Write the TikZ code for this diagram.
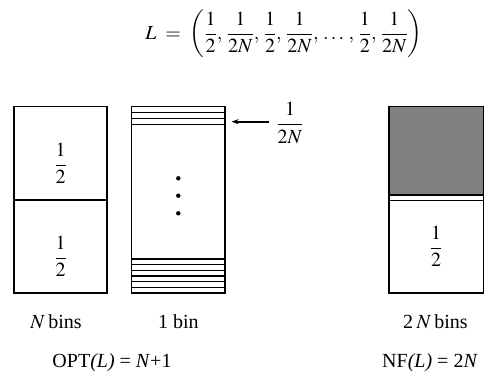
\documentclass[tikz,border=0pt]{standalone}
\usepackage{mathptmx}
\usepackage{fontspec}
\setmainfont{Liberation Serif}
\usepackage{tikz}
\usetikzlibrary{arrows.meta, positioning}
\definecolor{bingray}{HTML}{808080}

\newcommand{\bigfrac}[2]{{\displaystyle\frac{#1}{#2}}}

\tikzset{
  binline/.style={draw=black, line width=1.2pt},
  lbl/.style={font=\fontsize{20}{24}\selectfont, inner sep=0pt},
  headline/.style={font=\fontsize{20}{24}\selectfont, inner sep=0pt}
}

\begin{document}
\begin{tikzpicture}[x=1pt, y=-1pt]
    \useasboundingbox (0,0) rectangle (492,380);

    % The list
    \node[headline] (list) at (284,34) {$L\;=\;\biggl(\bigfrac{1}{2},\,\bigfrac{1}{2N},\,\bigfrac{1}{2},\,\bigfrac{1}{2N},\,\ldots\,,\,\bigfrac{1}{2},\,\bigfrac{1}{2N}\biggr)$};

    % OPT packing: N bins holding two halves
    \draw[binline] (14,106.7) rectangle (107,293);
    \draw[binline] (14,200) -- (107,200);
    \node[lbl] (halfA) at (60.5,163.5) {$\bigfrac{1}{2}$};
    \node[lbl] (halfB) at (60.5,256.5) {$\bigfrac{1}{2}$};

    % OPT packing: 1 bin holding all small items
    \draw[binline] (131.7,106.7) rectangle (225,293);
    \foreach \k in {0,1,2}
        \draw[binline] (131.7,{106.7+\k*5.9}) rectangle (225,{106.7+(\k+1)*5.9});
    \foreach \k in {0,...,5}
        \draw[binline] (131.7,{259+\k*5.67}) rectangle (225,{259+(\k+1)*5.67});
    \foreach \y in {178.3,195.7,213.3}
        \fill (178.3,\y) circle (2.2);

    \coordinate (tip) at (231.5,121.7);
    \node[lbl] (small) at (290,123) {$\bigfrac{1}{2N}$};
    \draw[line width=1.6pt, -{Stealth[length=7pt,width=5pt]}] (small.west) ++(-7,-1.3) -- (tip);

    % NF packing: 2N bins
    \fill[bingray] (389,106.7) rectangle (483.3,195);
    \draw[binline] (389,106.7) rectangle (483.3,293);
    \draw[binline] (389,195) -- (483.3,195);
    \draw[binline] (389,200.7) -- (483.3,200.7);
    \node[lbl] (halfC) at (436,246.5) {$\bigfrac{1}{2}$};

    % Bin counts
    \node[lbl] (nbins) at (56,322) {$N$\,bins};
    \node[lbl] (onebin) at (178.3,322) {1 bin};
    \node[lbl] (twonbins) at (435.5,322) {2\,$N$\,bins};

    % Costs
    \node[lbl] (opt) at (112,363) {OPT\textit{(L)} = \textit{N}+1};
    \node[lbl] (nf) at (430,363) {NF\textit{(L)} = 2\textit{N}};
\end{tikzpicture}
\end{document}
